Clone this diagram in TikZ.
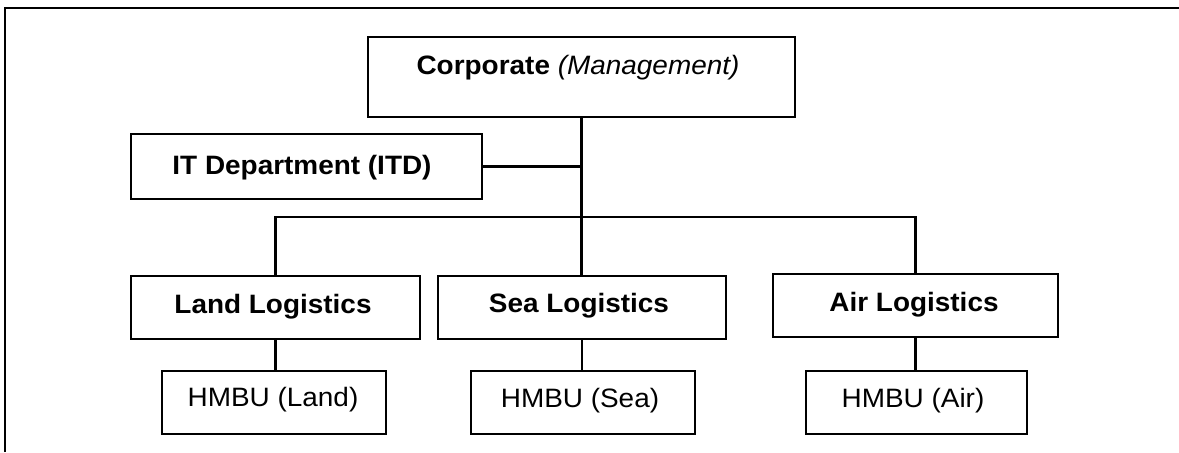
\documentclass[tikz,border=0pt]{standalone}
\usepackage{fontspec}
\setmainfont{Liberation Sans}[FakeStretch=1.05]
\begin{document}
\begin{tikzpicture}[x=0.5pt,y=-0.5pt,
  box/.style={draw=black,line width=1.45pt,inner sep=0pt,outer sep=0pt,minimum height=31.5pt},
  lbl/.style={anchor=base,inner sep=0pt,font=\fontsize{13.3}{16}\selectfont},
  conn/.style={draw=black,line width=1.4pt},
  frame/.style={draw=black,line width=1.1pt}]
\useasboundingbox (0,0) rectangle (1179,452);
\draw[frame] (5,452) -- (5,8) -- (1179,8);
% boxes
\node[box,minimum width=213.5pt,minimum height=40pt] (corp) at (581.5,77) {};
\node[box,minimum width=175.5pt,minimum height=32.5pt] (it) at (306.5,166.5) {};
\node[box,minimum width=144.5pt] (land) at (275.5,307.5) {};
\node[box,minimum width=144pt] (sea) at (582,307.5) {};
\node[box,minimum width=142.5pt] (air) at (915.5,305.5) {};
\node[box,minimum width=112pt] (hl) at (274,402.5) {};
\node[box,minimum width=112pt] (hs) at (583,402.5) {};
\node[box,minimum width=110.5pt] (ha) at (916.5,402.5) {};
% labels
\node[lbl] (tcorp) at (578,74) {\textbf{Corporate} \textit{(Management)}};
\node[lbl] (tit) at (302,174) {\textbf{IT Department (ITD)}};
\node[lbl] (tland) at (273,313) {\textbf{Land Logistics}};
\node[lbl] (tsea) at (579,312.5) {\textbf{Sea Logistics}};
\node[lbl] (tair) at (914,311.5) {\textbf{Air Logistics}};
\node[lbl] (thl) at (273,406) {HMBU (Land)};
\node[lbl] (ths) at (580,407) {HMBU (Sea)};
\node[lbl] (tha) at (913,407) {HMBU (Air)};
% connectors
\coordinate (bus) at (581.5,217);
\draw[conn] (corp.south) -- (corp.south |- sea.north);
\draw[conn] (it.east) -- (it.east -| corp.south);
\draw[conn] (land.north) |- (bus) -| (air.north);
\draw[conn] (land.south) -- (land.south |- hl.north);
\draw[conn] (sea.south) -- (sea.south |- hs.north);
\draw[conn] (air.south) -- (air.south |- ha.north);
\end{tikzpicture}
\end{document}
